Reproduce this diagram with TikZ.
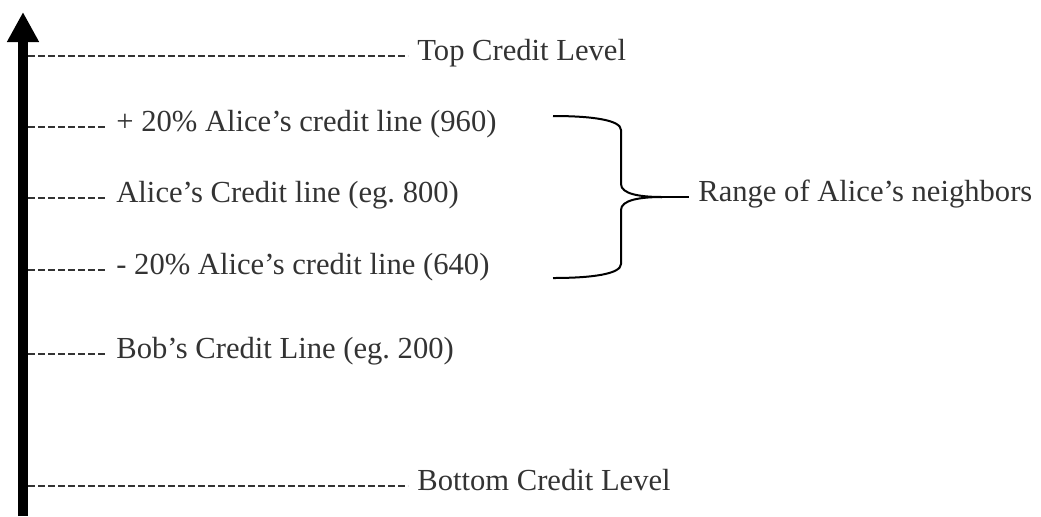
\documentclass[tikz,border=0pt]{standalone}
\usepackage{fontspec}
\setmainfont{Liberation Serif}
\usetikzlibrary{arrows.meta}
\frenchspacing
\tikzset{
	creditlabel/.style={anchor=west, inner xsep=4.5pt, inner ysep=0pt, text height=0.7em, text depth=0.25em, font=\fontsize{15.3}{18}\selectfont, text=black!80},
	dashline/.style={draw=black!80, line width=1.1pt, dash pattern=on 3.7pt off 1.3pt},
	bracepath/.style={line width=1pt, black},
}
\begin{document}
\begin{tikzpicture}[x=0.5pt, y=-0.5pt]
		\useasboundingbox (0,0) rectangle (1041,516);
		\coordinate(axisbottom) at (23,516);
		\coordinate(axistop) at (23,12);
		\coordinate(axis) at (28,0);
		\draw[line width=5pt, -{Triangle[width=15pt,length=15pt]}] (axisbottom) -- (axistop);

		\node(top)[creditlabel] at (408,56){Top Credit Level};
		\node(plus)[creditlabel] at (107,127){+ 20\% Alice’s credit line (960)};
		\node(alice)[creditlabel] at (107,198){Alice’s Credit line (eg. 800)};
		\node(minus)[creditlabel] at (107,270){- 20\% Alice’s credit line (640)};
		\node(bob)[creditlabel] at (107,354){Bob’s Credit Line (eg. 200)};
		\node(bottom)[creditlabel] at (408,486){Bottom Credit Level};

		\draw[dashline] (axis |- top.west) -- (top.west);
		\draw[dashline] (axis |- plus.west) -- (plus.west);
		\draw[dashline] (axis |- alice.west) -- (alice.west);
		\draw[dashline] (axis |- minus.west) -- (minus.west);
		\draw[dashline] (axis |- bob.west) -- (bob.west);
		\draw[dashline] (axis |- bottom.west) -- (bottom.west);

		\node(range)[creditlabel] at (689,197){Range of Alice’s neighbors};
		\coordinate(tip) at (662,197);
		\draw[bracepath] (553,116) .. controls (592,116) and (621,120) .. (621,130) -- (621,184) .. controls (621,194) and (640,197) .. (tip);
		\draw[bracepath] (553,278) .. controls (592,278) and (621,274) .. (621,264) -- (621,210) .. controls (621,200) and (640,197) .. (tip);
		\draw[bracepath] (tip) -- (range.west);
	\end{tikzpicture}
\end{document}
